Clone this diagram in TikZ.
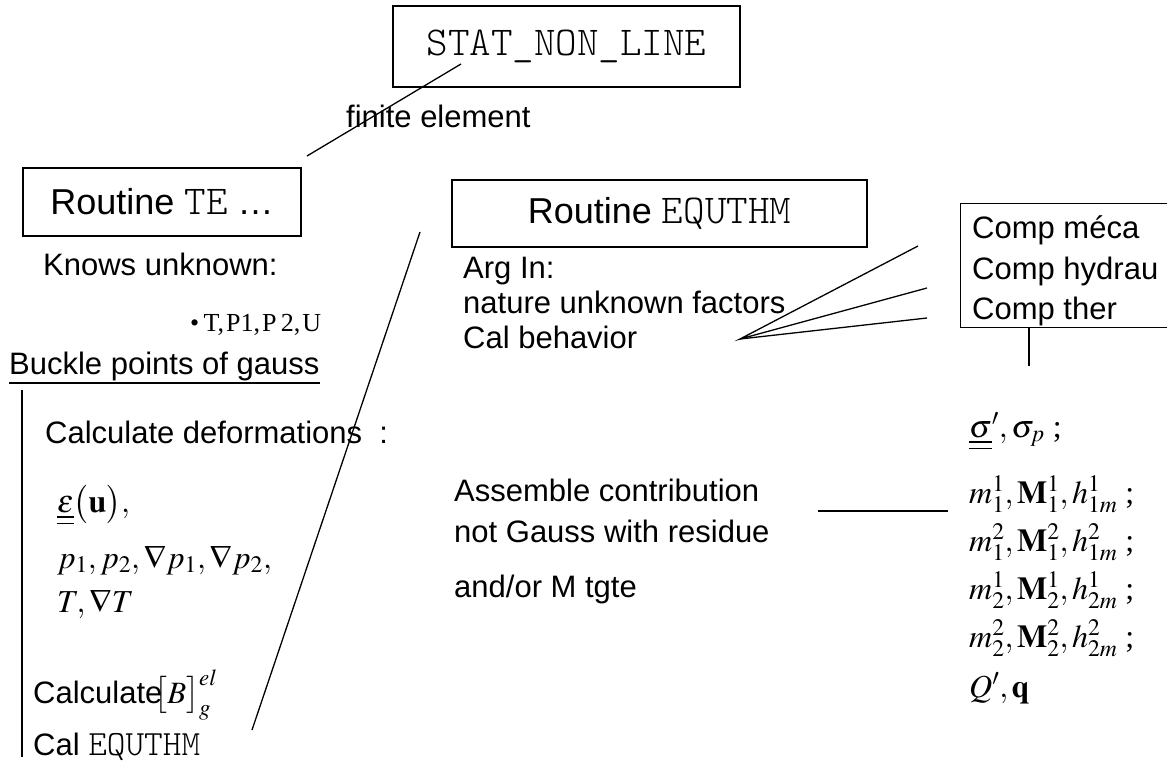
\documentclass[tikz,border=0pt]{standalone}
\usepackage{mathptmx}
\usepackage[no-math]{fontspec}
\setmainfont{Liberation Sans}
\newfontfamily\tms{Liberation Serif}
\usetikzlibrary{calc}
\definecolor{ink}{HTML}{000000}
\newcommand{\cw}[2]{{\ttfamily\fontseries{l}\fontsize{#1}{#1}\selectfont #2}}
\tikzset{
  conn/.style={line width=1.3pt, draw=ink},
  hbox/.style={draw=ink, line width=1.3pt, inner sep=0pt, font=\fontsize{36}{40}\selectfont},
  lab/.style={text=ink, inner sep=0pt, anchor=base west, font=\fontsize{31}{36}\selectfont},
  labm/.style={text=ink, inner sep=0pt, anchor=base west, font=\fontsize{32}{36}\selectfont\tms}
}
\begin{document}
\begin{tikzpicture}[x=1pt,y=-1pt]
  \useasboundingbox (0,0) rectangle (1167,765);

  \node[hbox, minimum width=347pt, minimum height=81pt] (stat) at (566.5,46.5) {\cw{41}{STAT\_NON\_LINE}};
  \node[lab] (fin) at (346,128) {finite element};
  \node[hbox, minimum width=278pt, minimum height=68pt] (te) at (162,202) {Routine \cw{41}{TE} …};
  \coordinate (statE) at (461,64);
  \coordinate (teE) at (307,156);
  \draw[conn] (statE) -- (teE);

  % left column
  \node[lab] (know) at (43,275) {Knows unknown:};
  \node[labm, font=\fontsize{26}{30}\selectfont\tms] (unk) at (190,331) {•\,T,\kern2pt P1,\kern2pt P\,2,\kern2pt U};
  \node[lab] (buck) at (9,374) {Buckle points of gauss};
  \draw[conn] ($(buck.base west)+(0,9)$) -- ($(buck.base east)+(0,9)$);
  \coordinate (gTop) at (22,390);
  \coordinate (gBot) at (22,757);
  \draw[conn] (gTop) -- (gBot);
  \node[lab] (defo) at (45,443) {Calculate deformations\ \ :};
  \node[labm] (eps) at (57,512) {$\underline{\underline{\varepsilon}}\bigl(\mathbf{u}\bigr),$};
  \node[labm] (pp) at (57,568) {$p_1, p_2, \nabla p_1, \nabla p_2,$};
  \node[labm] (tt) at (57,612) {$T, \nabla T$};
  \node[lab] (calb) at (33,703) {Calculate\kern-8pt$\bigl[B\bigr]_g^{el}$};
  \node[lab] (cal) at (33,755) {Cal \cw{35.5}{EQUTHM}};

  \coordinate (lnA) at (420,232);
  \coordinate (lnB) at (252,730);
  \draw[conn] (lnA) -- (lnB);

  % routine EQUTHM
  \node[hbox, minimum width=415pt, minimum height=67pt] (eq) at (659.5,213.5) {Routine \cw{41}{EQUTHM}};
  \node[lab] (arg) at (463,278) {Arg In:};
  \node[lab] (nat) at (463,313) {nature unknown factors};
  \node[lab] (cbeh) at (463,348) {Cal behavior};

  \coordinate (fan) at (740,339);
  \coordinate (fanA) at (918,246);
  \coordinate (fanB) at (927,288);
  \coordinate (fanC) at (927,318);
  \draw[conn] (fanA) -- (fan) -- (fanB);
  \draw[conn] (fan) -- (fanC);

  \node[hbox, anchor=north west, minimum width=240pt, minimum height=124pt] (comp) at (960,203) {};
  \node[lab] (cm1) at (972,238) {Comp méca};
  \node[lab] (cm2) at (972,279) {Comp hydrau};
  \node[lab] (cm3) at (972,319) {Comp ther};
  \coordinate (compT) at (1029,327);
  \coordinate (compB) at (1029,366);
  \draw[conn] (compT) -- (compB);

  \node[lab] (asm) at (454,501) {Assemble contribution};
  \node[lab] (asg) at (454,542) {not Gauss with residue};
  \node[lab] (tgt) at (454,597) {and/or M tgte};
  \coordinate (asmA) at (818,511);
  \coordinate (asmB) at (948,511);
  \draw[conn] (asmA) -- (asmB);

  % right column
  \node[labm] (sig) at (969,437) {$\underline{\underline{\sigma}}^{\prime}, \sigma_p$ ;};
  \node[labm] (m11) at (969,503) {$m_1^1, \mathbf{M}_1^1, h_{1m}^1$ ;};
  \node[labm] (m12) at (969,551) {$m_1^2, \mathbf{M}_1^2, h_{1m}^2$ ;};
  \node[labm] (m21) at (969,599) {$m_2^1, \mathbf{M}_2^1, h_{2m}^1$ ;};
  \node[labm] (m22) at (969,647) {$m_2^2, \mathbf{M}_2^2, h_{2m}^2$ ;};
  \node[labm] (qq) at (969,697) {$Q^{\prime}, \mathbf{q}$};
\end{tikzpicture}
\end{document}
